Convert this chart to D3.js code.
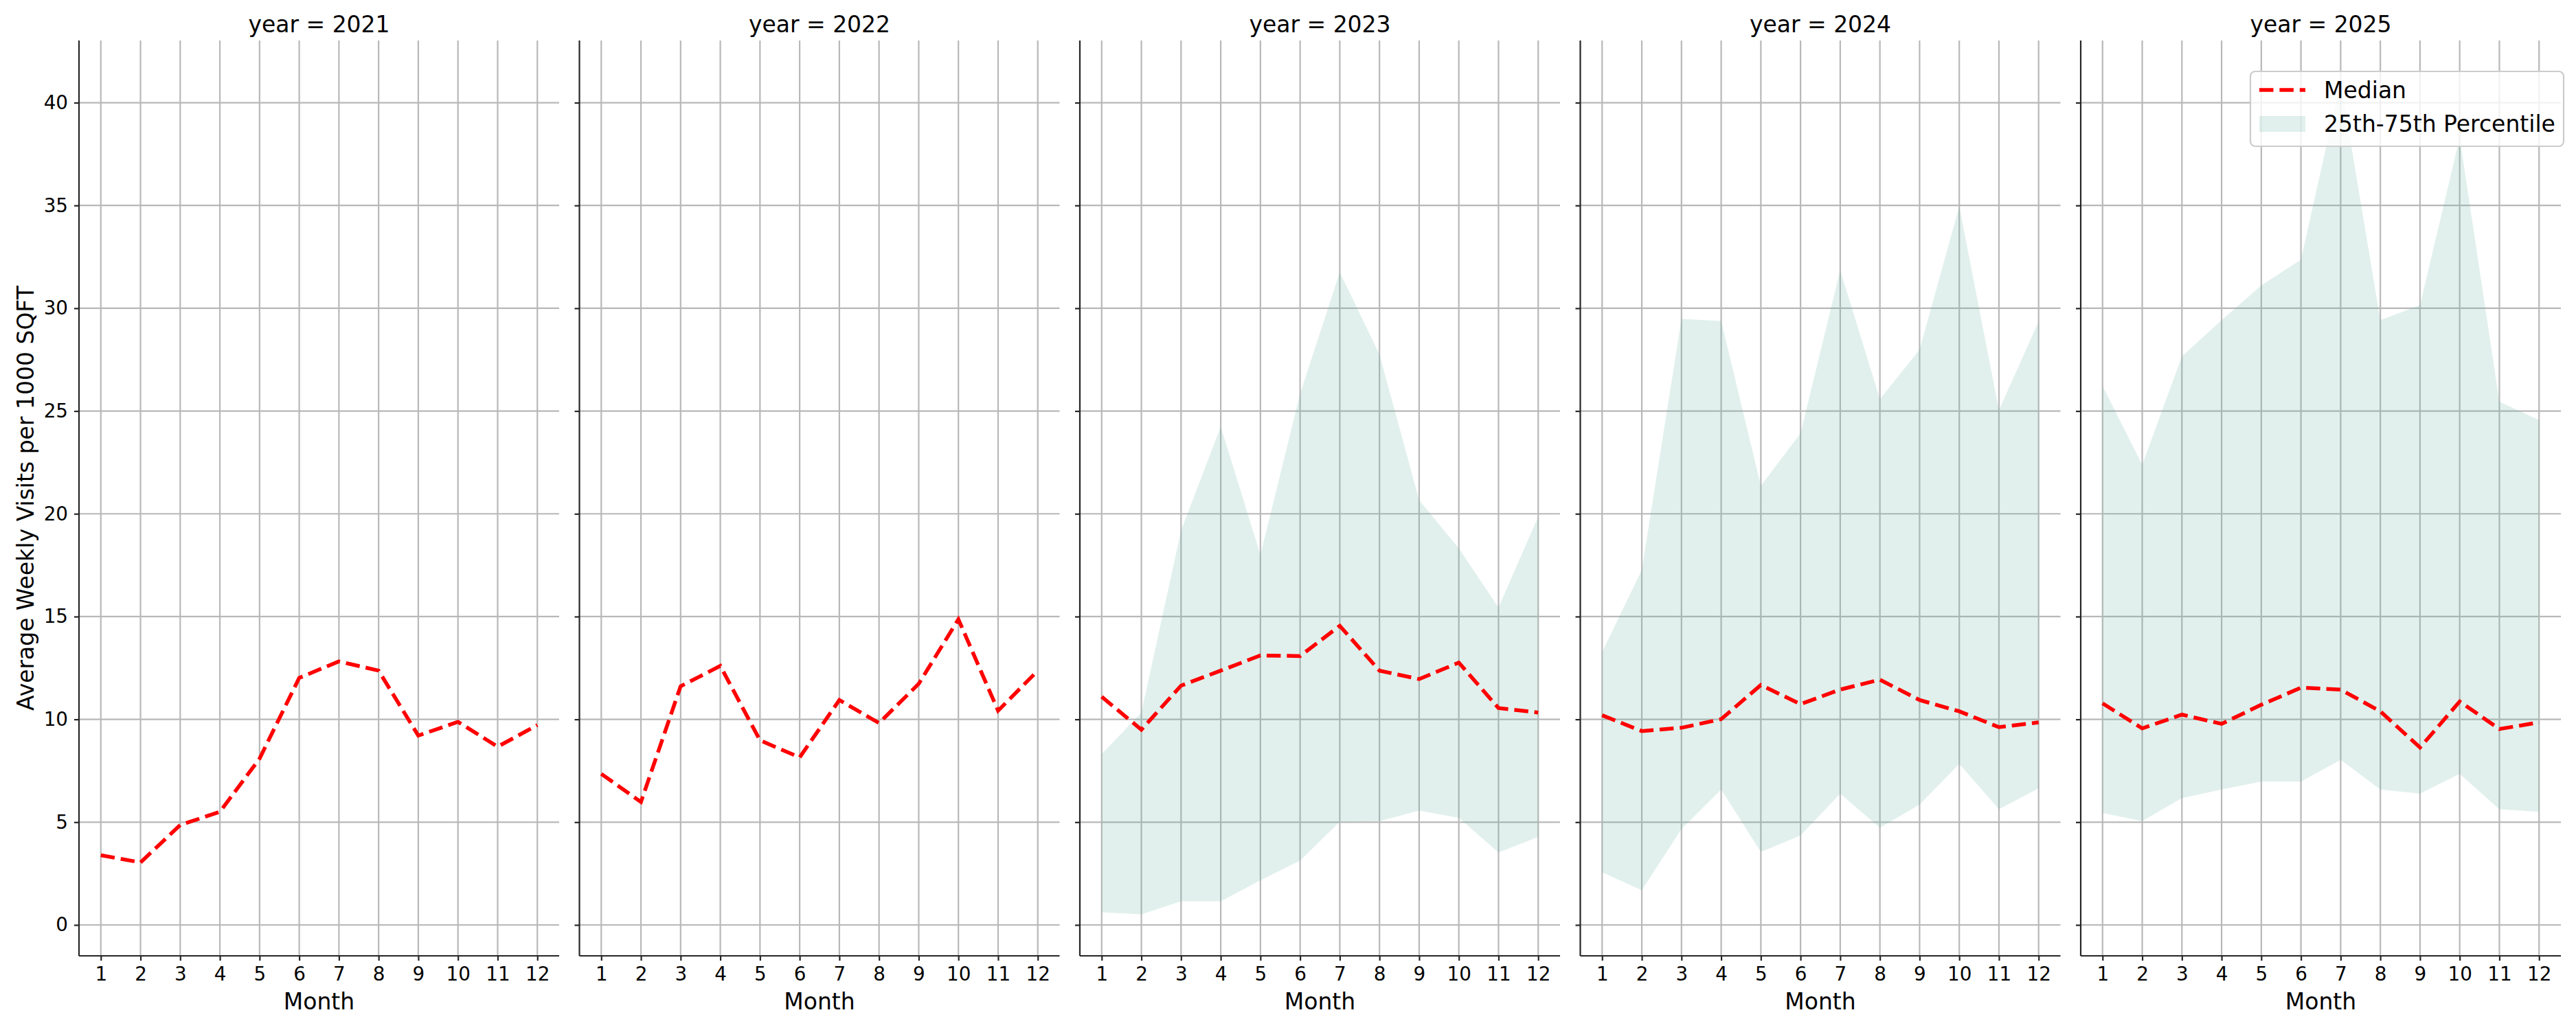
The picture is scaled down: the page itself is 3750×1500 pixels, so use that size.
<!DOCTYPE html>
<html>
<head>
<meta charset="utf-8">
<script src="https://cdn.jsdelivr.net/npm/d3@7"></script>
<style>
  body { margin: 0; background: #fff; }
  text { font-family: "DejaVu Sans", sans-serif; fill: #000; }
</style>
</head>
<body>
<svg id="chart" width="3750" height="1500"></svg>
<script>
// ---- data ----
const months = [1, 2, 3, 4, 5, 6, 7, 8, 9, 10, 11, 12];
const years = [2021, 2022, 2023, 2024, 2025];
const yTicks = [0, 5, 10, 15, 20, 25, 30, 35, 40];

const median2021 = [3.39, 3.04, 4.86, 5.50, 8.09, 12.02, 12.82, 12.37, 9.21, 9.88, 8.67, 9.72];
const median2022 = [7.35, 5.98, 11.61, 12.60, 8.98, 8.15, 10.94, 9.82, 11.73, 14.87, 10.42, 12.37];
const median2023 = [11.10, 9.50, 11.64, 12.37, 13.11, 13.08, 14.55, 12.37, 11.96, 12.76, 10.55, 10.33];
const median2024 = [10.20, 9.43, 9.59, 10.01, 11.67, 10.74, 11.45, 11.93, 10.94, 10.39, 9.62, 9.85];
const median2025 = [10.78, 9.56, 10.23, 9.78, 10.71, 11.54, 11.45, 10.39, 8.63, 10.87, 9.53, 9.85];

const p25_2023 = [0.62, 0.52, 1.15, 1.15, 2.17, 3.13, 5.02, 5.05, 5.56, 5.21, 3.52, 4.28];
const p75_2023 = [8.31, 10.33, 19.18, 24.24, 18.00, 25.84, 31.75, 27.75, 20.66, 18.32, 15.44, 19.86];
const p25_2024 = [2.56, 1.69, 4.67, 6.59, 3.55, 4.35, 6.39, 4.73, 5.85, 7.83, 5.63, 6.65];
const p75_2024 = [13.27, 17.27, 29.48, 29.38, 21.36, 23.92, 31.85, 25.58, 27.98, 34.95, 25.04, 29.35];
const p25_2025 = [5.44, 5.05, 6.17, 6.59, 6.97, 6.97, 8.03, 6.59, 6.39, 7.35, 5.63, 5.50];
const p75_2025 = [26.22, 22.38, 27.66, 29.42, 31.11, 32.36, 41.0, 29.42, 30.15, 38.3, 25.45, 24.56];

const medians = [median2021, median2022, median2023, median2024, median2025];
const p25s = [null, null, p25_2023, p25_2024, p25_2025];
const p75s = [null, null, p75_2023, p75_2024, p75_2025];

// ---- layout ----
const svg = d3.select("#chart");
const panelLefts = [115, 843.5, 1572, 2300.5, 3029];
const panelW = 699;
const plotTop = 59, plotBottom = 1392;
const gridColor = "#b8b8b8";
const spineColor = "#262626";
const red = "#ff0000";
const fillColor = "#69b3a2";

// shared y domain with matplotlib-like 5% margins
let allVals = [];
medians.forEach(a => allVals = allVals.concat(a));
p25s.forEach(a => { if (a) allVals = allVals.concat(a); });
p75s.forEach(a => { if (a) allVals = allVals.concat(a); });
let yMin = d3.min(allVals), yMax = d3.max(allVals);
let yPad = (yMax - yMin) * 0.05;
const y = d3.scaleLinear().domain([yMin - yPad, yMax + yPad]).range([plotBottom, plotTop]);

for (let i = 0; i < years.length; i++) {
    let left = panelLefts[i];
    let x = d3.scaleLinear().domain([1 - 0.55, 12 + 0.55]).range([left, left + panelW]);
    let g = svg.append("g");

    // grid
    g.selectAll(".vgrid").data(months).enter().append("line")
        .attr("x1", d => x(d)).attr("x2", d => x(d))
        .attr("y1", plotTop).attr("y2", plotBottom)
        .attr("stroke", gridColor).attr("stroke-width", 2.2);
    g.selectAll(".hgrid").data(yTicks).enter().append("line")
        .attr("x1", left).attr("x2", left + panelW)
        .attr("y1", d => y(d)).attr("y2", d => y(d))
        .attr("stroke", gridColor).attr("stroke-width", 2.2);

    // percentile band
    if (p25s[i]) {
        let area = d3.area()
            .x((d, k) => x(months[k]))
            .y0((d, k) => y(p25s[i][k]))
            .y1((d, k) => y(p75s[i][k]));
        g.append("path")
            .attr("d", area(months))
            .attr("fill", fillColor)
            .attr("fill-opacity", 0.2);
    }

    // median line
    let line = d3.line().x((d, k) => x(months[k])).y(d => y(d));
    g.append("path")
        .attr("d", line(medians[i]))
        .attr("fill", "none")
        .attr("stroke", red)
        .attr("stroke-width", 5.5)
        .attr("stroke-dasharray", "20.5 8.9");

    // axes
    let xAxis = g.append("g")
        .attr("transform", `translate(0,${plotBottom})`)
        .call(d3.axisBottom(x).tickValues(months).tickFormat(d3.format("d")).tickSizeOuter(0).tickSize(7).tickPadding(9));
    xAxis.select(".domain").attr("stroke", spineColor).attr("stroke-width", 2.2).attr("d", `M${left},0H${left + panelW}`);
    xAxis.selectAll(".tick line").attr("stroke", spineColor).attr("stroke-width", 2.2);
    xAxis.selectAll(".tick text").attr("font-size", 27.8).attr("font-family", "DejaVu Sans").attr("fill", "#000");

    let yAxis = g.append("g")
        .attr("transform", `translate(${left},0)`)
        .call(d3.axisLeft(y).tickValues(yTicks).tickSizeOuter(0).tickSize(7).tickPadding(9)
            .tickFormat(i === 0 ? d3.format("d") : () => ""));
    yAxis.select(".domain").attr("stroke", spineColor).attr("stroke-width", 2.2).attr("d", `M0,${plotTop}V${plotBottom}`);
    yAxis.selectAll(".tick line").attr("stroke", spineColor).attr("stroke-width", 2.2);
    yAxis.selectAll(".tick text").attr("font-size", 27.8).attr("font-family", "DejaVu Sans").attr("fill", "#000");

    // title and x label
    g.append("text")
        .attr("x", left + panelW / 2).attr("y", 47)
        .attr("text-anchor", "middle")
        .attr("font-size", 33)
        .text(`year = ${years[i]}`);
    g.append("text")
        .attr("x", left + panelW / 2).attr("y", 1470)
        .attr("text-anchor", "middle")
        .attr("font-size", 33)
        .text("Month");
}

// y label
svg.append("text")
    .attr("transform", `translate(49,${(plotTop + plotBottom) / 2}) rotate(-90)`)
    .attr("text-anchor", "middle")
    .attr("font-size", 33)
    .text("Average Weekly Visits per 1000 SQFT");

// legend (last panel)
let lg = svg.append("g");
lg.append("rect")
    .attr("x", 3276).attr("y", 104).attr("width", 456).attr("height", 109)
    .attr("rx", 7).attr("ry", 7)
    .attr("fill", "#fff").attr("fill-opacity", 0.8)
    .attr("stroke", "#cccccc").attr("stroke-width", 2.2);
lg.append("line")
    .attr("x1", 3289).attr("x2", 3356).attr("y1", 131).attr("y2", 131)
    .attr("stroke", red).attr("stroke-width", 5.5).attr("stroke-dasharray", "20.5 8.9");
lg.append("rect")
    .attr("x", 3289).attr("y", 169).attr("width", 67).attr("height", 23)
    .attr("fill", fillColor).attr("fill-opacity", 0.2);
lg.append("text").attr("x", 3383).attr("y", 143).attr("font-size", 33).text("Median");
lg.append("text").attr("x", 3383).attr("y", 192).attr("font-size", 33).text("25th-75th Percentile");
</script>
</body>
</html>
